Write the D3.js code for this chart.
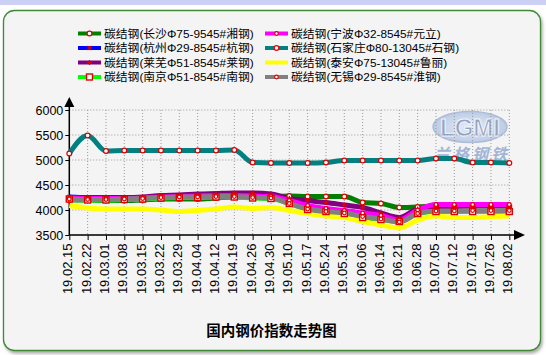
<!DOCTYPE html>
<html><head><meta charset="utf-8">
<script src="https://cdn.jsdelivr.net/npm/d3@7"></script>
<style>
html,body{margin:0;padding:0;background:#fff;}
svg{display:block;}
</style></head>
<body>
<svg id="chart" width="546" height="355"></svg>
<script>
const dates = ["19.02.15","19.02.22","19.03.01","19.03.08","19.03.15","19.03.22","19.03.29","19.04.04","19.04.12","19.04.19","19.04.26","19.04.30","19.05.10","19.05.17","19.05.24","19.05.31","19.06.06","19.06.14","19.06.21","19.06.28","19.07.05","19.07.12","19.07.19","19.07.26","19.08.02"];
const yTicks = [3500,4000,4500,5000,5500,6000];
const seriesNames = ["碳结钢(长沙Φ75-9545#湘钢)","碳结钢(杭州Φ29-8545#杭钢)","碳结钢(莱芜Φ51-8545#莱钢)","碳结钢(南京Φ51-8545#南钢)","碳结钢(宁波Φ32-8545#元立)","碳结钢(石家庄Φ80-13045#石钢)","碳结钢(泰安Φ75-13045#鲁丽)","碳结钢(无锡Φ29-8545#淮钢)"];
const seriesColors = ["#008000","#0000ff","#800080","#00ff00","#ff00ff","#008080","#ffff00","#808080"];
const seriesMarkers = ["circle","cross","plus","square","dot","circle","none","dot"];
const changsha = [4200,4200,4190,4190,4200,4220,4220,4220,4240,4260,4260,4270,4280,4270,4270,4270,4150,4130,4050,4060,4080,4080,4080,4080,4080];
const hangzhou = [4260,4250,4250,4250,4250,4260,4270,4280,4280,4280,4270,4260,4160,4050,4000,3970,3900,3850,3780,3960,4040,4040,4040,4040,4040];
const laiwu = [4250,4250,4250,4250,4260,4290,4300,4320,4330,4340,4340,4320,4230,4190,4150,4100,4050,3940,3850,4020,4060,4060,4060,4060,4060];
const nanjing = [4220,4200,4200,4210,4220,4240,4250,4250,4260,4260,4240,4230,4130,4010,3970,3930,3850,3810,3770,3930,3970,3970,3970,3970,3970];
const ningbo = [4240,4230,4230,4230,4240,4260,4270,4280,4290,4290,4280,4270,4190,4090,4030,3990,3940,3890,3800,4000,4110,4110,4110,4110,4110];
const shijiazhuang = [5130,5490,5180,5190,5190,5190,5190,5190,5190,5200,4950,4940,4940,4940,4950,4990,4990,4990,4990,4990,5030,5030,4950,4950,4940];
const taian = [4090,4040,4020,4020,4020,4000,3970,3990,4020,4060,4030,4050,3990,3930,3880,3850,3770,3700,3640,3800,3880,3850,3850,3870,3880];
const wuxi = [4220,4210,4210,4220,4230,4250,4260,4260,4270,4270,4250,4240,4130,4020,3970,3940,3870,3820,3760,3930,3980,3980,3990,3990,3990];
const seriesValues = [changsha,hangzhou,laiwu,nanjing,ningbo,shijiazhuang,taian,wuxi];
const title = "国内钢价指数走势图";

const svg = d3.select("#chart");
const defs = svg.append("defs");
const f = defs.append("filter").attr("id","sh").attr("x","-5%").attr("y","-5%").attr("width","110%").attr("height","110%");
f.append("feDropShadow").attr("dx",1.5).attr("dy",2.5).attr("stdDeviation",1.5).attr("flood-color","#777").attr("flood-opacity",0.6);
const lg = defs.append("linearGradient").attr("id","dv").attr("x1",0).attr("y1",0).attr("x2",0).attr("y2",1);
lg.append("stop").attr("offset","0%").attr("stop-color","#ddd");
lg.append("stop").attr("offset","50%").attr("stop-color","#000");
lg.append("stop").attr("offset","100%").attr("stop-color","#ddd");
const eg = defs.append("radialGradient").attr("id","eg");
eg.append("stop").attr("offset","0%").attr("stop-color","#e6ecf7");
eg.append("stop").attr("offset","100%").attr("stop-color","#bccbe4");

// top band
svg.append("rect").attr("x",0).attr("y",0).attr("width",546).attr("height",5).attr("fill","#cdd0f5");
// card
svg.append("rect").attr("x",3.5).attr("y",10.5).attr("width",537).attr("height",340).attr("rx",11)
  .attr("fill","#f4f4f4").attr("stroke","#3f8a36").attr("stroke-width",1.3).attr("filter","url(#sh)");

const x = d3.scalePoint().domain(dates).range([69.3,509.3]);
const y = d3.scaleLinear().domain([3500,6000]).range([235,110]);

// watermark
const wm = svg.append("g");
wm.append("ellipse").attr("cx",470).attr("cy",127).attr("rx",37).attr("ry",15.5)
  .attr("fill","url(#eg)").attr("stroke","#aebcd8").attr("stroke-width",1.5);
wm.append("text").attr("x",470).attr("y",135.5).attr("text-anchor","middle")
  .attr("font-family","Liberation Sans, Arial").attr("font-weight","bold").attr("font-size",24)
  .attr("fill","#93a3c2").attr("stroke","#f2f5fb").attr("stroke-width",1).attr("textLength",60).text("LGMI");
wm.append("text").attr("x",472).attr("y",160).attr("text-anchor","middle")
  .attr("font-family","Noto Sans CJK SC").attr("font-weight","bold").attr("font-style","italic").attr("font-size",16)
  .attr("fill","#a3b5d6").attr("letter-spacing",3).text("兰格钢铁");

// grid
const grid = svg.append("g").attr("stroke","#9a9a9a").attr("stroke-width",1).attr("stroke-dasharray","1,2");
dates.forEach(d=>{ grid.append("line").attr("x1",x(d)).attr("x2",x(d)).attr("y1",y(6000)).attr("y2",y(3500)); });
yTicks.forEach(t=>{ grid.append("line").attr("x1",x(dates[0])).attr("x2",x(dates[dates.length-1])).attr("y1",y(t)).attr("y2",y(t)); });

// axes
const yAxis = svg.append("g").attr("transform",`translate(${x(dates[0])},0)`)
  .call(d3.axisLeft(y).tickValues(yTicks).tickSize(4).tickPadding(2).tickFormat(d3.format("d")));
yAxis.select(".domain").remove();
yAxis.selectAll(".tick line").attr("stroke","#000");
yAxis.selectAll("text").attr("font-family","Liberation Sans, Arial").attr("font-size",12.5).attr("fill","#000");

const xAxis = svg.append("g").attr("transform",`translate(0,${y(3500)})`)
  .call(d3.axisBottom(x).tickSize(5).tickFormat(""));
xAxis.select(".domain").remove();
xAxis.selectAll(".tick line").attr("stroke","#000");
svg.append("g").selectAll("text").data(dates).join("text")
  .attr("transform",d=>`translate(${x(d)-1.5},243.5) rotate(-90)`)
  .attr("text-anchor","end").attr("dominant-baseline","central")
  .attr("font-family","Liberation Sans, Arial").attr("font-size",13).attr("fill","#000").text(d=>d);

svg.append("line").attr("x1",x(dates[0])).attr("x2",x(dates[0])).attr("y1",y(3500)).attr("y2",104).attr("stroke","#000").attr("stroke-width",1.5);
svg.append("line").attr("x1",x(dates[0])).attr("x2",516).attr("y1",y(3500)).attr("y2",y(3500)).attr("stroke","#000").attr("stroke-width",1.5);
svg.append("path").attr("d",`M${x(dates[0])-5},107L${x(dates[0])},97L${x(dates[0])+5},107Z`).attr("fill","#000");
svg.append("path").attr("d",`M514,${y(3500)-5}L525,${y(3500)}L514,${y(3500)+5}Z`).attr("fill","#000");

// lines
const line = d3.line().x((v,i)=>x(dates[i])).y(v=>y(v)).curve(d3.curveMonotoneX);
function marker(g,type,cx,cy){
  if(type==="none") return;
  if(type==="square"){ g.append("rect").attr("x",cx-3).attr("y",cy-3).attr("width",6).attr("height",6).attr("fill","#fff").attr("stroke","#e00000").attr("stroke-width",1.4); }
  else if(type==="circle"){ g.append("circle").attr("cx",cx).attr("cy",cy).attr("r",2.4).attr("fill","#fff").attr("stroke","#e00000").attr("stroke-width",1.2); }
  else if(type==="cross"){ g.append("path").attr("d",`M${cx-2},${cy-2}L${cx+2},${cy+2}M${cx-2},${cy+2}L${cx+2},${cy-2}`).attr("stroke","#e00000").attr("stroke-width",1.3); }
  else if(type==="plus"){ g.append("path").attr("d",`M${cx-2.5},${cy}L${cx+2.5},${cy}M${cx},${cy-2.5}L${cx},${cy+2.5}`).attr("stroke","#e00000").attr("stroke-width",1.3); }
  else { g.append("circle").attr("cx",cx).attr("cy",cy).attr("r",1.8).attr("fill","#fff").attr("stroke","#e00000").attr("stroke-width",1.2); }
}
const plot = svg.append("g");
seriesValues.forEach((vals,k)=>{
  plot.append("path").datum(vals).attr("d",line).attr("fill","none")
    .attr("stroke",seriesColors[k]).attr("stroke-width",5).attr("stroke-linejoin","round");
});
seriesValues.forEach((vals,k)=>{
  const g = plot.append("g");
  vals.forEach((v,i)=>marker(g,seriesMarkers[k],x(dates[i]),y(v)));
});

// legend
const leg = svg.append("g");
const rowsY = [33.5,48,62.5,77];
seriesNames.forEach((n,k)=>{
  const col = Math.floor(k/4), r = k%4;
  const x0 = col===0?78:265, tx = col===0?104:291;
  const g = leg.append("g");
  g.append("line").attr("x1",x0).attr("x2",x0+23).attr("y1",rowsY[r]).attr("y2",rowsY[r]).attr("stroke",seriesColors[k]).attr("stroke-width",4);
  marker(g,seriesMarkers[k],x0+11.5,rowsY[r]);
  g.append("text").attr("x",tx).attr("y",rowsY[r]).attr("dominant-baseline","central")
    .attr("font-family","Liberation Sans, Noto Sans CJK SC").attr("font-size",11.8).attr("fill","#000").text(n);
});
leg.append("line").attr("x1",262).attr("x2",262).attr("y1",25).attr("y2",90).attr("stroke","url(#dv)").attr("stroke-width",1.5);

svg.append("text").attr("x",271.5).attr("y",329).attr("text-anchor","middle").attr("dominant-baseline","central")
  .attr("font-family","Noto Sans CJK SC").attr("font-weight","bold").attr("font-size",14.5).attr("fill","#000").text(title);
</script>
</body></html>
